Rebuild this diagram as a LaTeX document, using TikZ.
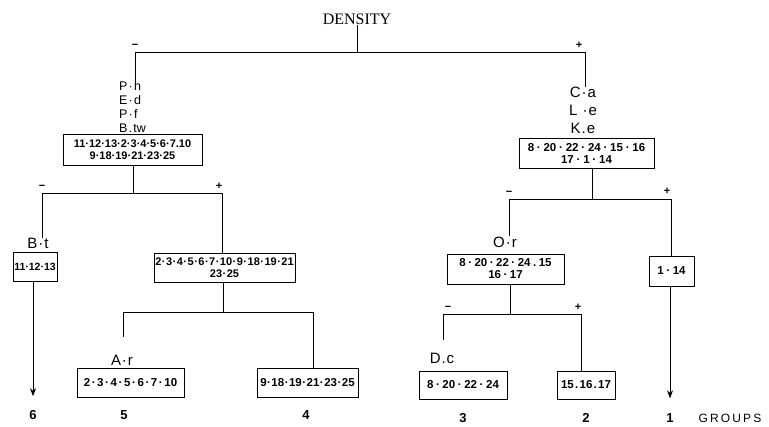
\documentclass[tikz,border=0pt]{standalone}
\usepackage{fontspec}
\setmainfont{Liberation Sans}
\newfontfamily\denfont{Liberation Serif}
\usetikzlibrary{arrows.meta}
\newlength\dsp
\newcommand\pd{\kern\dsp·\kern\dsp}
\newcommand\pq{\kern\dsp.\kern\dsp}
\begin{document}
\begin{tikzpicture}[x=1pt,y=-1pt,
  ln/.style={line width=0.8pt},
  arr/.style={line width=0.8pt,-{Stealth[length=8pt,width=6pt]}},
  box/.style 2 args={draw,line width=0.8pt,inner sep=1pt,align=center,font=\fontsize{#1}{12}\selectfont\bfseries\setlength\dsp{#2}},
  lab/.style={inner sep=0pt,font=\fontsize{15}{13}\selectfont\setlength\dsp{1pt}},
  sgn/.style={inner sep=0pt,font=\fontsize{11}{11}\selectfont\bfseries},
  grp/.style={inner sep=0pt,font=\fontsize{13}{13}\selectfont\bfseries}]
\useasboundingbox (0,0) rectangle (769,427);

% root
\node[inner sep=0pt,font=\denfont\fontsize{16}{16}\selectfont] (den) at (357,19) {DENSITY};
\coordinate (t) at (357,52);
\coordinate (tl) at (135,52);
\coordinate (tr) at (585,52);
\draw[ln] (den.south) -- (t);
\draw[ln] (tl) -- (tr);
\node[sgn] (s1) at (135,46) {−};
\node[sgn] (s2) at (579,45) {+};

% left branch
\node[lab,align=left,anchor=north west,font=\fontsize{12.5}{14}\selectfont\setlength\dsp{1.2pt}] (l1) at (119,81) {P\pd h\\E\pd d\\P\pd f\\B\pq tw};
\draw[ln] (tl) -- (tl |- l1.north);
\node[box={11}{0pt},minimum width=139pt,minimum height=31pt] (b1) at (132.5,149.5) {11\pd12\pd13\pd2\pd3\pd4\pd5\pd6\pd7\pq10\\9\pd18\pd19\pd21\pd23\pd25};
\coordinate (j1) at (133,193);
\coordinate (j1l) at (42,193);
\coordinate (j1r) at (222,193);
\draw[ln] (b1.south -| j1) -- (j1);
\draw[ln] (j1l) -- (j1r);
\node[sgn] (s3) at (42,187) {−};
\node[sgn] (s4) at (219,186) {+};

\node[lab] (lbt) at (38,243) {B\pd t};
\draw[ln] (j1l) -- (j1l |- lbt.north);
\node[box={10.5}{0pt},minimum width=44pt,minimum height=29pt] (bbt) at (35,266.5) {11\pd12\pd13};
\node[grp] (g6) at (33,415) {6};
\draw[arr] (bbt.south -| g6) -- ([yshift=14pt]g6.north);

\node[box={11}{0.5pt},minimum width=141pt,minimum height=29pt,inner sep=0pt] (b2) at (224.5,267.5) {2\pd3\pd4\pd5\pd6\pd7\pd10\pd9\pd18\pd19\pd21\\23\pd25};
\draw[ln] (j1r) -- (j1r |- b2.north);
\coordinate (j2) at (223,312);
\coordinate (j2l) at (123,312);
\coordinate (j2r) at (313,312);
\draw[ln] (b2.south -| j2) -- (j2);
\draw[ln] (j2l) -- (j2r);
\node[lab] (lar) at (122,360) {A\pd r};
\draw[ln] (j2l) -- (123,337);
\node[box={11.5}{1.6pt},minimum width=107pt,minimum height=29pt] (b5) at (130.5,382.5) {2\pd3\pd4\pd5\pd6\pd7\pd10};
\node[box={11.5}{0.5pt},minimum width=101pt,minimum height=29pt] (b4) at (307.5,382.5) {9\pd18\pd19\pd21\pd23\pd25};
\draw[ln] (j2r) -- (j2r |- b4.north);
\node[grp] (g5) at (124,415) {5};
\node[grp] (g4) at (306,415) {4};

% right branch
\node[lab,align=center,anchor=north,font=\fontsize{15}{18}\selectfont\setlength\dsp{1pt}] (l2) at (583,87) {C\pd a\\L \pd e\\K\pq e};
\draw[ln] (tr) -- (tr |- l2.north);
\node[box={11.5}{2.8pt},minimum width=135pt,minimum height=30pt] (b6) at (586.5,153) {8\pd20\pd22\pd24\pd15\pd16\\17\pd1\pd14};
\coordinate (j3) at (592,199);
\coordinate (j3l) at (509,199);
\coordinate (j3r) at (671,199);
\draw[ln] (b6.south -| j3) -- (j3);
\draw[ln] (j3l) -- (j3r);
\node[sgn] (s5) at (509,193) {−};
\node[sgn] (s6) at (667,191) {+};

\node[lab] (lor) at (505,242) {O\pd r};
\draw[ln] (j3l) -- (j3l |- lor.north);
\node[box={11.5}{2.5pt},minimum width=117pt,minimum height=30pt] (b7) at (505.5,269) {8\pd20\pd22\pd24\pq15\\16\pd17};
\coordinate (j4) at (510,314);
\coordinate (j4l) at (443,314);
\coordinate (j4r) at (581,314);
\draw[ln] (b7.south -| j4) -- (j4);
\draw[ln] (j4l) -- (j4r);
\node[sgn] (s7) at (448,308) {−};
\node[sgn] (s8) at (578,307) {+};
\node[lab] (ldc) at (442,358) {D\pq c};
\draw[ln] (j4l) -- (443,340);
\node[box={11.5}{2.6pt},minimum width=88pt,minimum height=28pt] (b3) at (463,385) {8\pd20\pd22\pd24};
\node[box={11.5}{1.3pt},minimum width=58pt,minimum height=28pt] (b2g) at (586,385) {15\pq16\pq17};
\draw[ln] (j4r) -- (j4r |- b2g.north);

\node[box={11.5}{2.6pt},minimum width=45pt,minimum height=30pt] (b114) at (671.5,271) {1\pd14};
\draw[ln] (j3r) -- (j3r |- b114.north);
\node[grp] (g1) at (670,418) {1};
\draw[arr] (b114.south -| g1) -- ([yshift=15pt]g1.north);
\node[grp] (g3) at (463,418) {3};
\node[grp] (g2) at (586,418) {2};
\node[inner sep=0pt,font=\fontsize{12}{12}\selectfont\addfontfeature{LetterSpace=18}] (gr) at (730,418) {GROUPS};
\end{tikzpicture}
\end{document}
